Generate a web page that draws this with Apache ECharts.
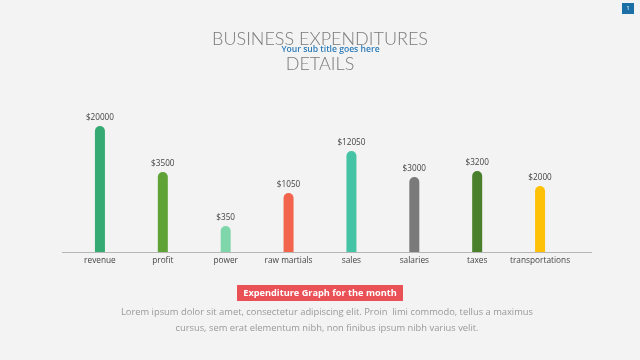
<!DOCTYPE html>
<html>
<head>
<meta charset="utf-8">
<style>
html,body{margin:0;padding:0;background:#f3f3f3;}
#chart{width:640px;height:360px;}
</style>
<script src="https://cdn.jsdelivr.net/npm/echarts@6/dist/echarts.min.js"></script>
</head>
<body>
<div id="chart"></div>
<script>
var categories = ['revenue', 'profit', 'power', 'raw martials', 'sales', 'salaries', 'taxes', 'transportations'];
var amounts = [20000, 3500, 350, 1050, 12050, 3000, 3200, 2000];
var barHeights = [126, 80, 26, 59, 101, 75, 81, 66];
var barColors = ['#35aa72', '#5fa236', '#7fd6ab', '#f2644b', '#45c3a5', '#7a7a7a', '#4a7f2c', '#ffc107'];

var chart = echarts.init(document.getElementById('chart'), null, {renderer: 'canvas'});
var option = {
  backgroundColor: '#f3f3f3',
  animation: false,
  title: [{
    text: 'BUSINESS EXPENDITURES\nDETAILS',
    left: 'center',
    top: 22,
    textStyle: {fontFamily: 'Lato', fontWeight: 300, fontSize: 18, color: '#7a7a7a', lineHeight: 25}
  }],
  grid: {left: 68.5, right: 68.5, top: 112, bottom: 108},
  xAxis: {
    type: 'category',
    data: categories,
    axisLine: {show: false},
    axisTick: {show: false},
    axisLabel: {fontFamily: 'Open Sans', fontSize: 8.3, color: '#444', margin: 5, interval: 0}
  },
  yAxis: {type: 'value', min: 0, max: 140, show: false, splitLine: {show: false}},
  series: [{
    type: 'bar',
    data: barHeights.map(function (v, i) { return {value: v, itemStyle: {color: barColors[i]}}; }),
    barWidth: 10,
    itemStyle: {borderRadius: [5, 5, 0, 0]},
    label: {
      show: true, position: 'top', distance: 4,
      fontFamily: 'Open Sans', fontSize: 8.2, color: '#444',
      formatter: function (p) { return '$' + amounts[p.dataIndex]; }
    }
  }],
  graphic: [
    {type: 'line', shape: {x1: 62, y1: 252.5, x2: 592, y2: 252.5}, style: {stroke: '#b5b5b5', lineWidth: 1}},
    {type: 'text', style: {text: 'Your sub title goes here', x: 330.5, y: 50, textAlign: 'center', textVerticalAlign: 'middle', fill: '#2b7bb9', fontSize: 8.6, fontWeight: 600, fontFamily: 'Open Sans'}},
    {type: 'rect', shape: {x: 622, y: 3, width: 12, height: 11}, style: {fill: '#1c6fa6'}},
    {type: 'text', style: {text: '1', x: 628, y: 8.5, textAlign: 'center', textVerticalAlign: 'middle', fill: '#ffffff', fontSize: 6, fontFamily: 'Open Sans'}},
    {type: 'rect', shape: {x: 237, y: 285, width: 166, height: 16}, style: {fill: '#ea5157'}},
    {type: 'text', style: {text: 'Expenditure Graph for the month', x: 320, y: 293, textAlign: 'center', textVerticalAlign: 'middle', fill: '#ffffff', fontSize: 9.2, fontWeight: 'bold', fontFamily: 'Open Sans'}},
    {type: 'text', style: {text: 'Lorem ipsum dolor sit amet, consectetur adipiscing elit. Proin  limi commodo, tellus a maximus', x: 327, y: 312, textAlign: 'center', textVerticalAlign: 'middle', fill: '#999999', fontSize: 9.35, fontFamily: 'Open Sans'}},
    {type: 'text', style: {text: 'cursus, sem erat elementum nibh, non finibus ipsum nibh varius velit.', x: 327, y: 328, textAlign: 'center', textVerticalAlign: 'middle', fill: '#999999', fontSize: 9.35, fontFamily: 'Open Sans'}}
  ]
};
chart.setOption(option);
</script>
</body>
</html>
